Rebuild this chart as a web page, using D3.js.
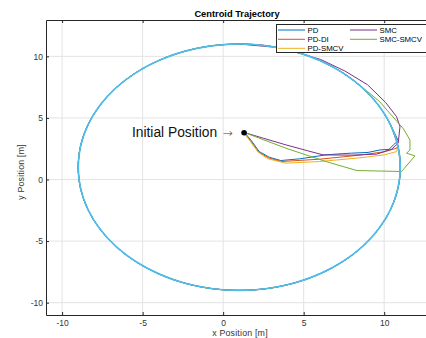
<!DOCTYPE html>
<html>
<head>
<meta charset="utf-8">
<script src="https://cdn.jsdelivr.net/npm/d3@7"></script>
<style>
  html, body { margin: 0; padding: 0; background: #fff; }
  svg { display: block; font-family: "Liberation Sans", Arial, sans-serif; }
</style>
</head>
<body>
<svg id="chart" width="426" height="338"></svg>
<script>
// ---------------- data ----------------
const title = "Centroid Trajectory";
const xLabel = "x Position [m]";
const yLabel = "y Position [m]";
const xTicks = [-10, -5, 0, 5, 10];
const yTicks = [-10, -5, 0, 5, 10];
const seriesNames = ["PD", "PD-DI", "PD-SMCV", "SMC", "SMC-SMCV"];
const seriesColors = ["#0072BD", "#D95319", "#EDB120", "#7E2F8E", "#77AC30"];
const refColor = "#4DBEEE";

// reference circular path (counter-clockwise from the right)
const refX = [11.00, 10.85, 10.40, 9.66, 8.66, 7.43, 6.00, 4.42, 2.74, 1.00, -0.74, -2.42, -4.00, -5.43, -6.66, -7.66, -8.40, -8.85,
              -9.00, -8.85, -8.40, -7.66, -6.66, -5.43, -4.00, -2.42, -0.74, 1.00, 2.74, 4.42, 6.00, 7.43, 8.66, 9.66, 10.40, 10.85];
const refY = [1.00, 2.74, 4.42, 6.00, 7.43, 8.66, 9.66, 10.40, 10.85, 11.00, 10.85, 10.40, 9.66, 8.66, 7.43, 6.00, 4.42, 2.74,
              1.00, -0.74, -2.42, -4.00, -5.43, -6.66, -7.66, -8.40, -8.85, -9.00, -8.85, -8.40, -7.66, -6.66, -5.43, -4.00, -2.42, -0.74];

// approach segments of each controller (before joining the reference path)
const pdX = [1.33, 1.72, 2.24, 2.86, 3.58, 4.76, 6.38, 7.40, 7.98, 9.00, 9.74, 10.30, 10.57, 10.87];
const pdY = [3.81, 3.21, 2.27, 1.81, 1.54, 1.68, 2.00, 2.10, 2.14, 2.20, 2.40, 2.45, 2.81, 3.16];
const pdJoin = 2;   // index into reference path where trajectory merges

const pdiX = [1.30, 1.68, 2.20, 2.82, 3.60, 6.00, 8.50, 10.00, 10.77];
const pdiY = [3.78, 3.17, 2.23, 1.76, 1.46, 1.65, 1.98, 2.25, 2.54];
const pdiJoin = 1;

const pdsX = [1.30, 1.66, 2.16, 2.78, 3.90, 6.00, 8.49, 10.00, 10.77];
const pdsY = [3.78, 3.14, 2.24, 1.68, 1.33, 1.46, 1.76, 2.00, 2.27];
const pdsJoin = 1;

const smcX = [1.33, 2.50, 3.90, 5.20, 6.20, 8.00, 9.53, 10.46, 10.87, 10.98, 10.77, 10.09, 8.97, 7.56, 6.05, 3.60];
const smcY = [3.81, 3.35, 2.81, 2.35, 2.00, 1.98, 2.06, 2.46, 2.95, 4.29, 5.10, 6.25, 7.69, 8.81, 9.75, 10.69];
const smcJoin = 9;

const smcvX = [1.33, 3.90, 6.38, 8.30, 11.08, 11.91, 11.39, 11.60, 11.60, 11.20, 10.77, 10.20, 9.73, 9.20];
const smcvY = [3.81, 2.54, 1.46, 0.73, 0.65, 1.92, 2.14, 2.40, 3.21, 4.10, 4.75, 5.60, 6.30, 6.90];
const smcvJoin = 4;

const initX = [1.30];
const initY = [3.80];
const annotation = "Initial Position";

// ---------------- layout ----------------
const svg = d3.select("#chart");
const mLeft = 46, mRight = 428, mTop = 20, mBottom = 315;
const x = d3.scaleLinear().domain([-11, 12.72]).range([mLeft, mRight]);
const y = d3.scaleLinear().domain([-11, 12.95]).range([mBottom, mTop]);
const axisColor = "#262626";

svg.append("defs").append("clipPath").attr("id", "clip")
  .append("rect").attr("x", mLeft).attr("y", mTop).attr("width", mRight - mLeft).attr("height", mBottom - mTop);

// grid
const grid = svg.append("g");
grid.selectAll(".gx").data(xTicks).join("line")
  .attr("x1", d => x(d)).attr("x2", d => x(d)).attr("y1", mTop).attr("y2", mBottom)
  .attr("stroke", "#e3e3e3").attr("stroke-width", 1);
grid.selectAll(".gy").data(yTicks).join("line")
  .attr("y1", d => y(d)).attr("y2", d => y(d)).attr("x1", mLeft).attr("x2", mRight)
  .attr("stroke", "#e3e3e3").attr("stroke-width", 1);

// build trajectories: a linear approach, then a smooth part following the reference path
const lineLin = d3.line().x(d => x(d[0])).y(d => y(d[1]));
const lineSmooth = d3.line().x(d => x(d[0])).y(d => y(d[1])).curve(d3.curveCatmullRom.alpha(0.5));
const plot = svg.append("g").attr("clip-path", "url(#clip)");
const approaches = [[pdX, pdY, pdJoin], [pdiX, pdiY, pdiJoin], [pdsX, pdsY, pdsJoin], [smcX, smcY, smcJoin], [smcvX, smcvY, smcvJoin]];
const n = refX.length;
approaches.forEach(([ax, ay, join], i) => {
  const app = ax.map((v, k) => [v, ay[k]]);
  app.push([refX[join], refY[join]]);
  const loop = [];
  for (let k = join; k <= join + n; k++) loop.push([refX[k % n], refY[k % n]]);
  plot.append("path").datum(app).attr("d", lineLin)
    .attr("fill", "none").attr("stroke", seriesColors[i]).attr("stroke-width", 1).attr("stroke-linejoin", "round");
  plot.append("path").datum(loop).attr("d", lineSmooth)
    .attr("fill", "none").attr("stroke", seriesColors[i]).attr("stroke-width", 1);
});
// reference path
const refPts = refX.map((v, i) => [v, refY[i]]);
plot.append("path").datum(refPts)
  .attr("d", d3.line().x(d => x(d[0])).y(d => y(d[1])).curve(d3.curveCatmullRomClosed.alpha(0.5)))
  .attr("fill", "none").attr("stroke", refColor).attr("stroke-width", 1.7);

// initial position marker
plot.selectAll(".init").data(initX).join("circle")
  .attr("cx", (d) => x(d)).attr("cy", (d, i) => y(initY[i])).attr("r", 2.8).attr("fill", "#000");

// annotation
svg.append("text").attr("x", x(initX[0]) - 27).attr("y", y(initY[0]) + 4.5)
  .attr("text-anchor", "end").attr("font-size", 13.8).attr("fill", "#111").text(annotation);
svg.append("text").attr("x", x(initX[0]) - 21.5).attr("y", y(initY[0]) + 3.8)
  .attr("font-family", "DejaVu Sans").attr("font-size", 12).attr("font-weight", 300).attr("fill", "#444").text("→");

// axes
const xAxis = d3.axisBottom(x).tickValues(xTicks).tickSizeInner(-3).tickSizeOuter(0).tickPadding(5)
  .tickFormat(d3.format("d"));
const gx = svg.append("g").attr("transform", `translate(0,${mBottom})`).call(xAxis);
const xTopAxis = d3.axisTop(x).tickValues(xTicks).tickSizeInner(-3).tickSizeOuter(0).tickFormat("");
const gxt = svg.append("g").attr("transform", `translate(0,${mTop})`).call(xTopAxis);
const yAxis = d3.axisLeft(y).tickValues(yTicks).tickSizeInner(-3).tickSizeOuter(0).tickPadding(3)
  .tickFormat(d3.format("d"));
const gy = svg.append("g").attr("transform", `translate(${mLeft},0)`).call(yAxis);
[gx, gxt, gy].forEach(g => {
  g.select(".domain").attr("stroke", axisColor).attr("stroke-width", 1);
  g.selectAll(".tick line").attr("stroke", axisColor);
  g.selectAll(".tick text").attr("fill", "#333").attr("font-size", 8.5)
    .attr("font-family", "Liberation Sans, Arial, sans-serif");
});
gx.selectAll(".tick text").text(d => d < 0 ? "-" + Math.abs(d) : d);
gy.selectAll(".tick text").text(d => d < 0 ? "-" + Math.abs(d) : d);

// titles
svg.append("text").attr("x", 237).attr("y", 16.5).attr("text-anchor", "middle")
  .attr("font-size", 9.3).attr("font-weight", "bold").attr("fill", "#000").text(title);
svg.append("text").attr("x", 240).attr("y", 336).attr("text-anchor", "middle")
  .attr("font-size", 8.8).attr("letter-spacing", 0.2).attr("fill", "#333").text(xLabel);
svg.append("text").attr("transform", "translate(24,172) rotate(-90)").attr("text-anchor", "middle")
  .attr("font-size", 8.8).attr("letter-spacing", 0.2).attr("fill", "#333").text(yLabel);

// legend
const lg = svg.append("g");
lg.append("rect").attr("x", 276.5).attr("y", 24.5).attr("width", 152).attr("height", 28)
  .attr("fill", "#fff").attr("stroke", axisColor).attr("stroke-width", 1);
const legPos = [[278, 30], [278, 39.3], [278, 48.3], [350, 30], [350, 39.3]];
seriesNames.forEach((name, i) => {
  const [lx, ly] = legPos[i];
  lg.append("line").attr("x1", lx).attr("x2", lx + 27).attr("y1", ly).attr("y2", ly)
    .attr("stroke", seriesColors[i]).attr("stroke-width", 1);
  lg.append("text").attr("x", lx + 29.5).attr("y", ly).attr("dy", "0.35em")
    .attr("font-size", 7.8).attr("fill", "#000").text(name);
});
</script>
</body>
</html>
